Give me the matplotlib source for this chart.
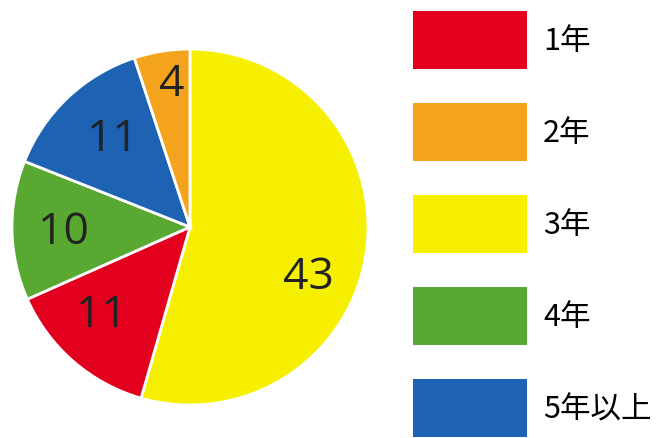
import numpy as np
import matplotlib
matplotlib.use("Agg")
import matplotlib.pyplot as plt
from matplotlib.patches import Patch

plt.rcParams['font.family'] = ['Noto Sans CJK JP', 'DejaVu Sans']

# slices, clockwise from 12 o'clock
slice_labels = ['3年', '1年', '4年', '5年以上', '2年']
slice_values = [43, 11, 10, 11, 4]

# legend order
legend_labels = ['1年', '2年', '3年', '4年', '5年以上']

colors = {
    '1年': '#E3001E',
    '2年': '#F4A41C',
    '3年': '#F6F000',
    '4年': '#58A831',
    '5年以上': '#1E62B4',
}

fig = plt.figure(figsize=(6.69, 4.39), dpi=100)
ax = fig.add_axes([12 / 669, 33 / 439, 356 / 669, 356 / 439])

wedges, texts = ax.pie(
    slice_values,
    colors=[colors[k] for k in slice_labels],
    startangle=90,
    counterclock=False,
    radius=1.0,
    wedgeprops=dict(edgecolor='white', linewidth=2),
)

# value labels, placed a bit off the middle of each slice like the original
angle_shift = [-15, -4, 1, -2, -2]
label_r = [0.72, 0.70, 0.71, 0.66, 0.81]
for w, v, da, r in zip(wedges, slice_values, angle_shift, label_r):
    mid = np.deg2rad((w.theta1 + w.theta2) / 2 + da)
    ax.text(r * np.cos(mid), r * np.sin(mid), str(v),
            ha='center', va='center', fontsize=32, color='#222222',
            family=['Open Sans', 'DejaVu Sans'])

ax.set_xlim(-1.0, 1.0)
ax.set_ylim(-1.0, 1.0)
ax.set_aspect('equal')
ax.axis('off')

handles = [Patch(facecolor=colors[k], edgecolor='none') for k in legend_labels]
fs = 22
px = fs * 100 / 72
# legend patch height = fs * (0.65 * handleheight + 0.245)
hh = (58 / px - 0.245) / 0.65
fig.legend(
    handles, legend_labels,
    loc='upper left',
    bbox_to_anchor=(413 / 669, 1 - 12 / 439),
    frameon=False,
    fontsize=fs,
    handlelength=114 / px,
    handleheight=hh,
    handletextpad=16 / px,
    labelspacing=34 / px,
    borderpad=0,
    borderaxespad=0,
)

fig.savefig('out.png', dpi=100)
